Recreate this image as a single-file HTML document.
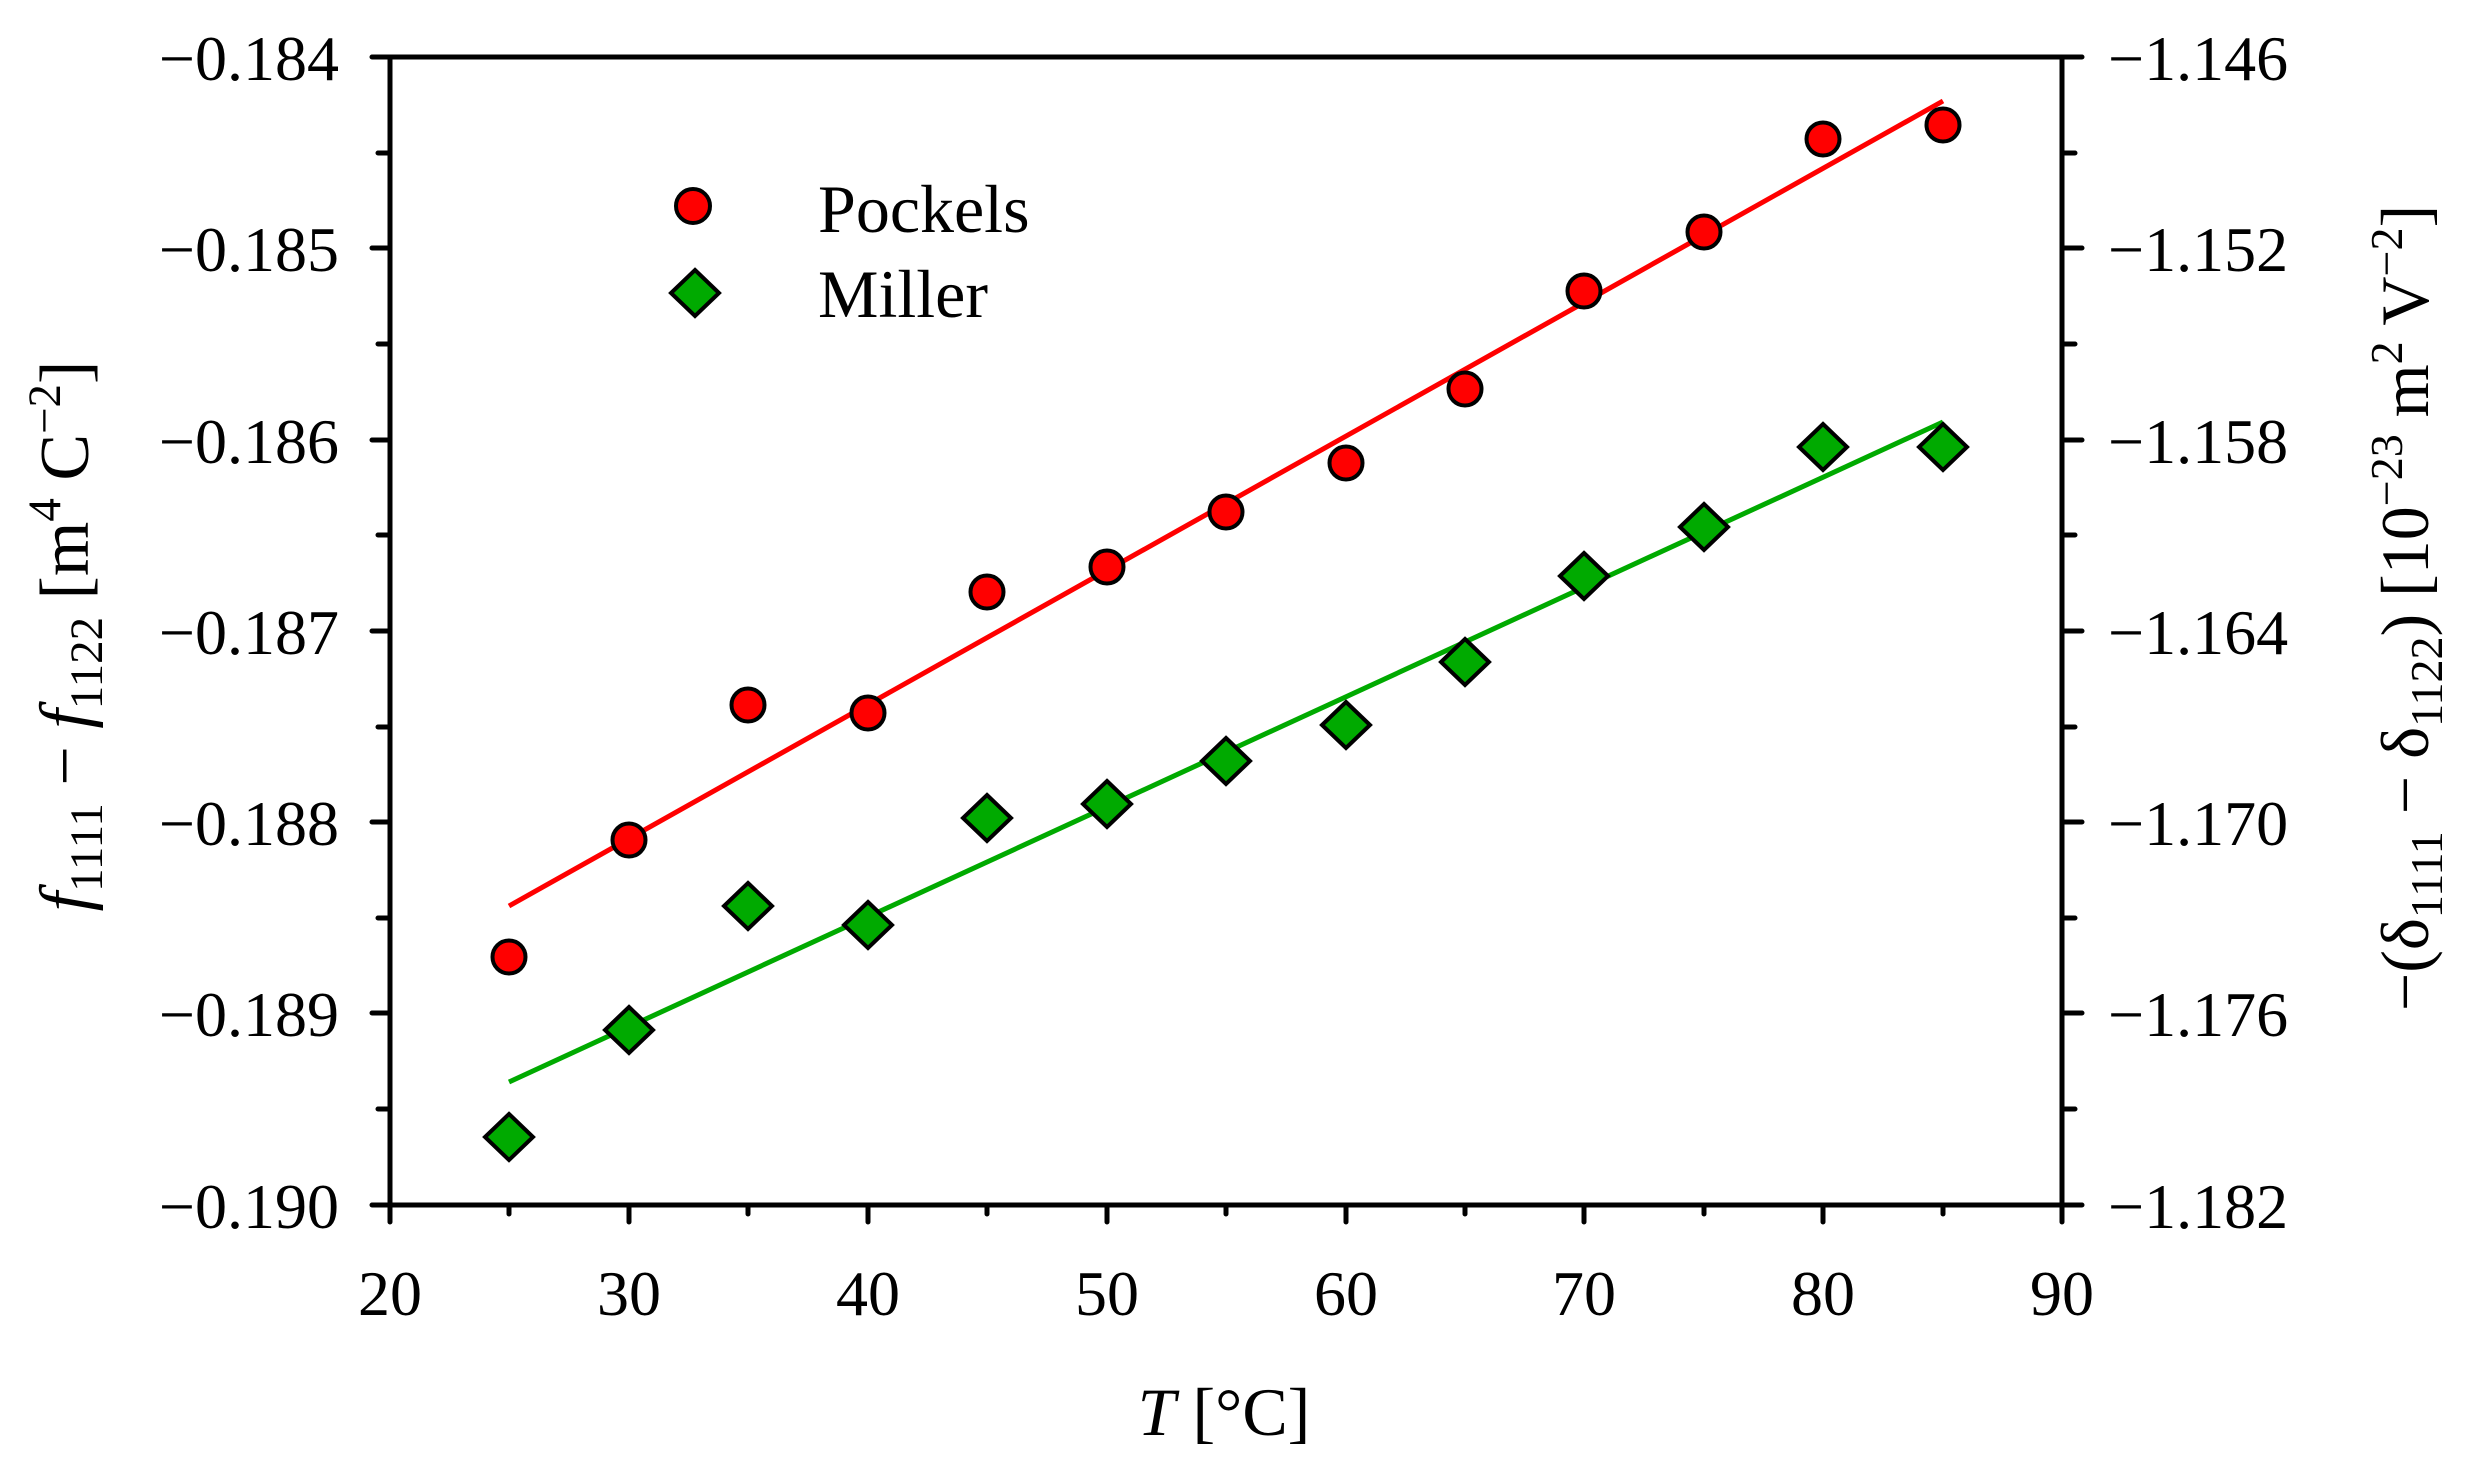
<!DOCTYPE html>
<html><head><meta charset="utf-8"><style>html,body{margin:0;padding:0;background:#fff}svg{display:block}</style></head>
<body>
<svg width="2466" height="1470" viewBox="0 0 2466 1470" xmlns="http://www.w3.org/2000/svg" font-family="Liberation Serif, serif">
<g stroke="#000" stroke-width="5" fill="none" stroke-linecap="round">
<path d="M390 57 H2062 V1205 H390 Z"/>
<path d="M372 57H390M372 248H390M372 440H390M372 631H390M372 822H390M372 1013H390M372 1205H390"/>
<path d="M378 153H390M378 344H390M378 535H390M378 727H390M378 918H390M378 1109H390"/>
<path d="M2062 57H2082M2062 248H2082M2062 440H2082M2062 631H2082M2062 822H2082M2062 1013H2082M2062 1205H2082"/>
<path d="M2062 153H2075M2062 344H2075M2062 535H2075M2062 727H2075M2062 918H2075M2062 1109H2075"/>
<path d="M390 1205V1222M629 1205V1222M868 1205V1222M1107 1205V1222M1346 1205V1222M1584 1205V1222M1823 1205V1222M2062 1205V1222"/>
<path d="M509 1205V1214M748 1205V1214M987 1205V1214M1226 1205V1214M1465 1205V1214M1704 1205V1214M1943 1205V1214"/>
</g>
<g font-size="64" text-anchor="end" fill="#000">
<text x="339" y="80">−0.184</text>
<text x="339" y="271">−0.185</text>
<text x="339" y="463">−0.186</text>
<text x="339" y="654">−0.187</text>
<text x="339" y="845">−0.188</text>
<text x="339" y="1036">−0.189</text>
<text x="339" y="1228">−0.190</text>
</g>
<g font-size="64" text-anchor="start" fill="#000">
<text x="2108" y="80">−1.146</text>
<text x="2108" y="271">−1.152</text>
<text x="2108" y="463">−1.158</text>
<text x="2108" y="654">−1.164</text>
<text x="2108" y="845">−1.170</text>
<text x="2108" y="1036">−1.176</text>
<text x="2108" y="1228">−1.182</text>
</g>
<g font-size="64" text-anchor="middle" fill="#000">
<text x="390" y="1315">20</text><text x="629" y="1315">30</text><text x="868" y="1315">40</text><text x="1107" y="1315">50</text>
<text x="1346" y="1315">60</text><text x="1584" y="1315">70</text><text x="1823" y="1315">80</text><text x="2062" y="1315">90</text>
</g>
<text x="1224" y="1435" font-size="68" text-anchor="middle"><tspan font-style="italic">T</tspan> [°C]</text>
<text transform="translate(88,636) rotate(-90)" font-size="70" text-anchor="middle"><tspan font-style="italic">f</tspan><tspan font-size="47" dy="14">1111</tspan><tspan dy="-14"> − </tspan><tspan font-style="italic">f</tspan><tspan font-size="47" dy="14">1122</tspan><tspan dy="-14"> [m</tspan><tspan font-size="47" dy="-28">4</tspan><tspan dy="28"> C</tspan><tspan font-size="47" dy="-28">−2</tspan><tspan dy="28">]</tspan></text>
<text transform="translate(2428,608) rotate(-90)" font-size="68" text-anchor="middle">−(δ<tspan font-size="46" dy="14">1111</tspan><tspan dy="-14"> − δ</tspan><tspan font-size="46" dy="14">1122</tspan><tspan dy="-14">) [10</tspan><tspan font-size="46" dy="-26">−23</tspan><tspan dy="26"> m</tspan><tspan font-size="46" dy="-26">2</tspan><tspan dy="26"> V</tspan><tspan font-size="46" dy="-26">−2</tspan><tspan dy="26">]</tspan></text>
<line x1="509" y1="906" x2="1943" y2="101" stroke="#ff0000" stroke-width="5"/>
<line x1="509" y1="1082" x2="1943" y2="422" stroke="#00aa00" stroke-width="5"/>
<g fill="#ff0000" stroke="#000" stroke-width="4">
<circle cx="509" cy="957" r="16.5"/><circle cx="629" cy="840" r="16.5"/><circle cx="748" cy="705" r="16.5"/>
<circle cx="868" cy="713" r="16.5"/><circle cx="987" cy="592" r="16.5"/><circle cx="1107" cy="567" r="16.5"/>
<circle cx="1226" cy="512" r="16.5"/><circle cx="1346" cy="463" r="16.5"/><circle cx="1465" cy="389" r="16.5"/>
<circle cx="1584" cy="291" r="16.5"/><circle cx="1704" cy="232" r="16.5"/><circle cx="1823" cy="139" r="16.5"/>
<circle cx="1943" cy="125" r="16.5"/>
<circle cx="693" cy="206" r="17"/>
</g>
<g fill="#00aa00" stroke="#000" stroke-width="4" stroke-linejoin="miter">
<path d="M509 1114l24 23-24 23-24-23z"/><path d="M629 1007l24 23-24 23-24-23z"/><path d="M748 883l24 23-24 23-24-23z"/>
<path d="M868 902l24 23-24 23-24-23z"/><path d="M987 795l24 23-24 23-24-23z"/><path d="M1107 781l24 23-24 23-24-23z"/>
<path d="M1226 738l24 23-24 23-24-23z"/><path d="M1346 702l24 23-24 23-24-23z"/><path d="M1465 639l24 23-24 23-24-23z"/>
<path d="M1584 553l24 23-24 23-24-23z"/><path d="M1704 504l24 23-24 23-24-23z"/><path d="M1823 424l24 23-24 23-24-23z"/>
<path d="M1943 424l24 23-24 23-24-23z"/>
<path d="M695 270l24 23-24 23-24-23z"/>
</g>
<text x="818" y="232" font-size="68">Pockels</text>
<text x="818" y="317" font-size="68">Miller</text>
</svg>
</body></html>
